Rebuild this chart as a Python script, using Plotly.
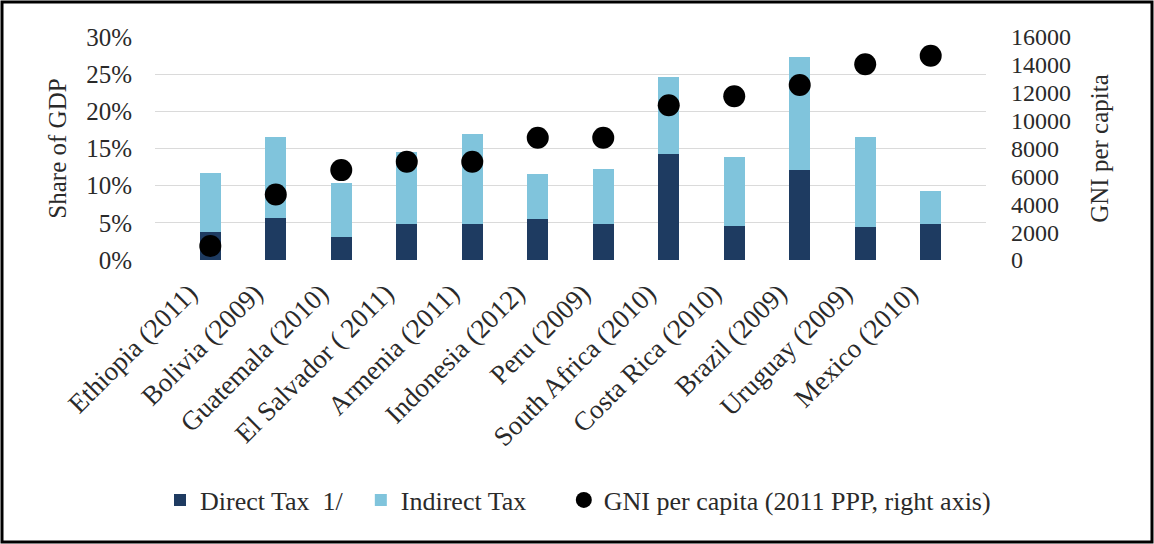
import plotly.graph_objects as go

# Countries (survey year)
categories = [
    "Ethiopia (2011)", "Bolivia (2009)", "Guatemala (2010)", "El Salvador ( 2011)",
    "Armenia (2011)", "Indonesia (2012)", "Peru (2009)", "South Africa (2010)",
    "Costa Rica (2010)", "Brazil (2009)", "Uruguay (2009)", "Mexico (2010)",
]
# Tax revenue, share of GDP (%)
direct_tax = [3.8, 5.6, 3.1, 4.9, 4.9, 5.5, 4.8, 14.2, 4.6, 12.1, 4.5, 4.9]
indirect_tax = [7.9, 11.0, 7.3, 9.6, 12.1, 6.1, 7.4, 10.4, 9.3, 15.2, 12.1, 4.4]
# GNI per capita, 2011 PPP (right axis)
gni_per_capita = [1000, 4700, 6450, 7050, 7050, 8770, 8770, 11100, 11750, 12550, 14050, 14650]

left_ticks = [0, 5, 10, 15, 20, 25, 30]
left_labels = ["0%", "5%", "10%", "15%", "20%", "25%", "30%"]
right_ticks = [0, 2000, 4000, 6000, 8000, 10000, 12000, 14000, 16000]
right_labels = ["0", "2000", "4000", "6000", "8000", "10000", "12000", "14000", "16000"]

FONT = "Liberation Serif"
TEXT = "#2a2a2a"
DARK = "#1e3b61"
LIGHT = "#80c4dc"
NBSP = "\u00a0"

W, H = 1154, 544
ML, MR, MT, MB = 155, 168, 37, 284
PW, PH = W - ML - MR, H - MT - MB


def px_x(px):
    return (px - ML) / PW


def px_y(py):
    return (H - MB - py) / PH


fig = go.Figure()
fig.add_trace(go.Bar(
    x=categories, y=direct_tax, name="Direct Tax" + NBSP * 2 + "1/" + NBSP * 2,
    marker=dict(color=DARK, line=dict(width=0)),
))
fig.add_trace(go.Bar(
    x=categories, y=indirect_tax, name="Indirect Tax" + NBSP * 5,
    marker=dict(color=LIGHT, line=dict(width=0)),
))
fig.add_trace(go.Scatter(
    x=categories, y=gni_per_capita, yaxis="y2", mode="markers",
    name="GNI per capita (2011 PPP, right axis)",
    marker=dict(color="black", size=22, line=dict(width=0)),
))

fig.update_layout(
    width=W, height=H,
    margin=dict(l=ML, r=MR, t=MT, b=MB, pad=0),
    paper_bgcolor="white", plot_bgcolor="white",
    barmode="stack", bargap=0.68,
    font=dict(family=FONT, size=24, color=TEXT),
    xaxis=dict(
        type="category", tickangle=-45, showgrid=False, showline=False,
        ticks="", tickfont=dict(size=27), zeroline=False,
        ticklabelshift=-21, ticklabelstandoff=11,
    ),
    yaxis=dict(
        range=[0, 30], tickmode="array", tickvals=left_ticks, ticktext=left_labels,
        showgrid=True, gridcolor="#dadada", gridwidth=1, zeroline=False,
        showline=False, ticks="", ticklabelstandoff=22,
        tickfont=dict(size=25),
        title=dict(text="Share of GDP", font=dict(size=25), standoff=12),
    ),
    yaxis2=dict(
        range=[0, 16000], tickmode="array", tickvals=right_ticks, ticktext=right_labels,
        overlaying="y", side="right",
        showgrid=False, zeroline=False, showline=False, ticks="",
        ticklabelstandoff=24, tickfont=dict(size=24),
        title=dict(text="GNI per capita", font=dict(size=25), standoff=20),
    ),
    legend=dict(
        orientation="h", x=px_x(160), xanchor="left", y=px_y(500), yanchor="middle",
        font=dict(size=26), itemwidth=30, traceorder="normal",
        bgcolor="rgba(0,0,0,0)",
    ),
    shapes=[dict(
        type="rect", xref="paper", yref="paper",
        x0=px_x(2), x1=px_x(1152), y0=px_y(542), y1=px_y(2),
        line=dict(color="black", width=3), layer="above",
    )],
)

fig.write_html("out.html")
